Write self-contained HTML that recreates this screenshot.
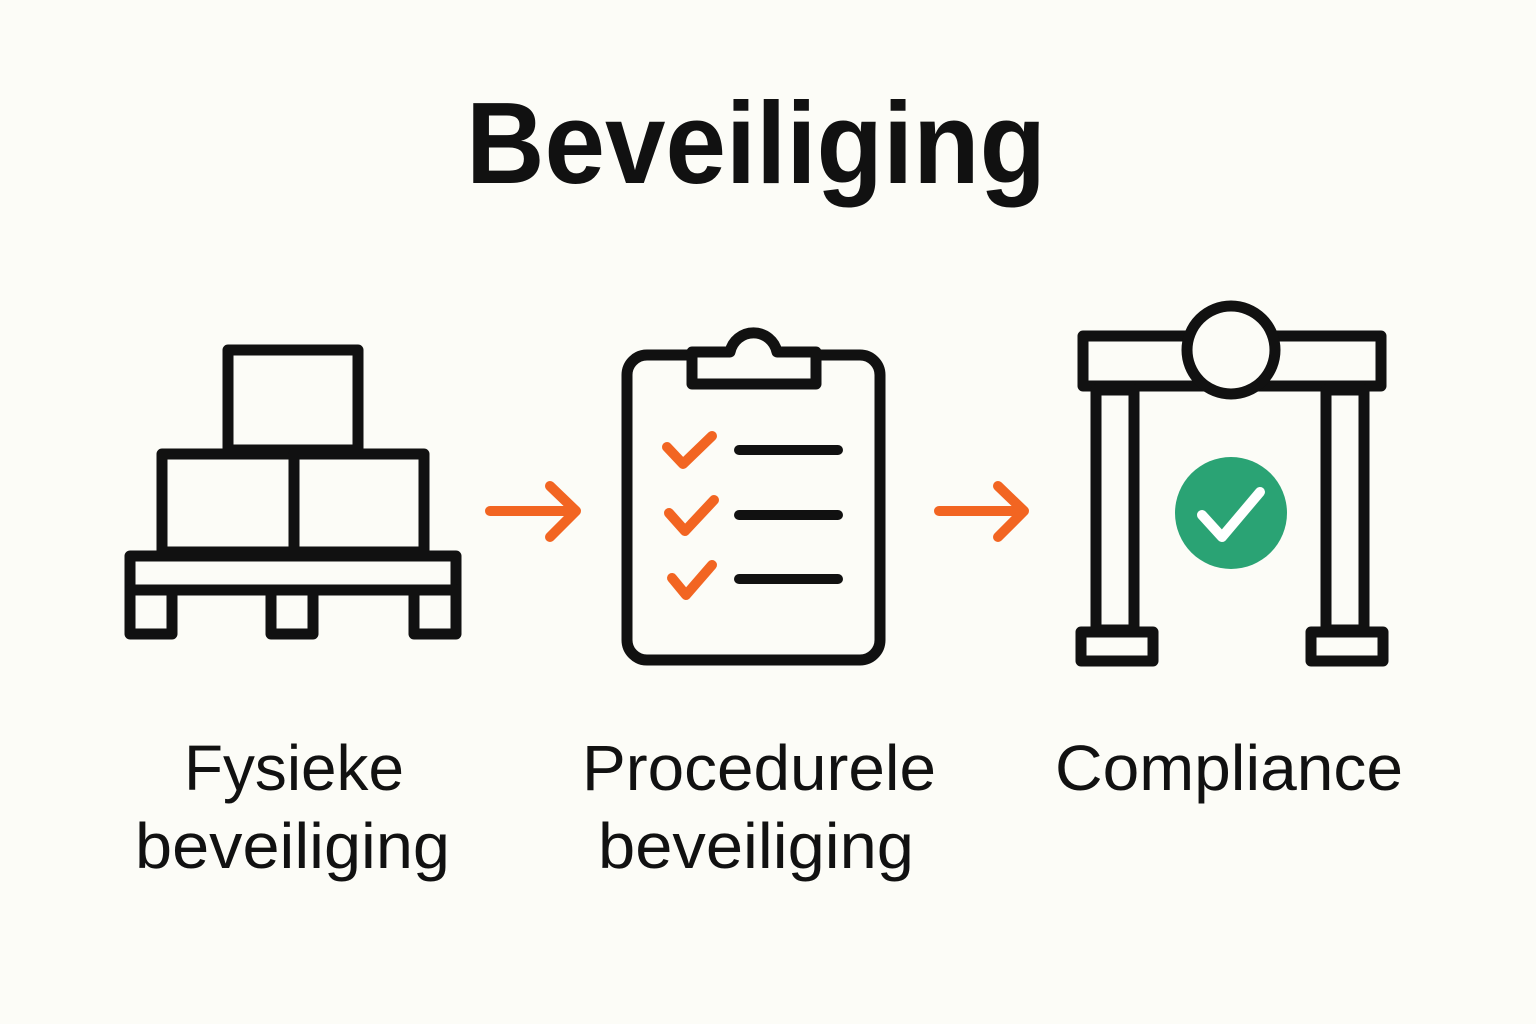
<!DOCTYPE html>
<html><head><meta charset="utf-8"><style>
html,body{margin:0;padding:0;background:#fcfcf7;}
svg{display:block}
text{font-family:"Liberation Sans",sans-serif;fill:#111;}
</style></head><body>
<svg width="1536" height="1024" viewBox="0 0 1536 1024">
<rect width="1536" height="1024" fill="#fcfcf7"/>
<text x="466" y="183" font-size="116" font-weight="bold" textLength="580" lengthAdjust="spacingAndGlyphs">Beveiliging</text>

<g fill="none" stroke="#111" stroke-width="11" stroke-linejoin="round">
<rect x="228" y="350" width="130" height="100"/>
<rect x="162" y="454" width="132" height="98"/>
<rect x="294" y="454" width="130" height="98"/>
<rect x="130" y="556" width="326" height="34"/>
<rect x="130" y="590" width="42" height="44"/>
<rect x="271" y="590" width="42" height="44"/>
<rect x="414" y="590" width="42" height="44"/>

<rect x="627" y="355" width="253" height="305" rx="20"/>
<path d="M692 352 H730 A24 24 0 0 1 777 352 H816 V384 H692 Z" fill="#fcfcf7"/>

<rect x="1083" y="336" width="298" height="50"/>
<circle cx="1231" cy="350" r="44" fill="#fcfcf7"/>
<rect x="1096" y="390" width="38" height="240"/>
<rect x="1326" y="390" width="38" height="240"/>
<rect x="1081" y="632" width="72" height="29"/>
<rect x="1311" y="632" width="72" height="29"/>
</g>

<g fill="none" stroke="#111" stroke-width="10" stroke-linecap="round">
<line x1="739" y1="450" x2="838" y2="450"/>
<line x1="739" y1="515" x2="838" y2="515"/>
<line x1="739" y1="579" x2="838" y2="579"/>
</g>
<g fill="none" stroke="#f26522" stroke-width="10" stroke-linecap="round" stroke-linejoin="round">
<polyline points="667,447 683,464 712,436"/>
<polyline points="669,513 685,531 714,500"/>
<polyline points="672,578 686,595 712,565"/>
<line x1="490" y1="511" x2="575" y2="511"/>
<polyline points="550,486 576,511 550,537"/>
<line x1="939" y1="511" x2="1022" y2="511"/>
<polyline points="998,486 1024,511 998,537"/>
</g>

<circle cx="1231" cy="513" r="56" fill="#2aa374"/>
<polyline points="1202,515 1222,537 1260,492" fill="none" stroke="#fff" stroke-width="10" stroke-linecap="round" stroke-linejoin="round"/>

<g font-size="64">
<text x="184" y="790" textLength="220" lengthAdjust="spacingAndGlyphs">Fysieke</text>
<text x="135" y="868" textLength="315" lengthAdjust="spacingAndGlyphs">beveiliging</text>
<text x="582" y="790" textLength="354" lengthAdjust="spacingAndGlyphs">Procedurele</text>
<text x="598" y="868" textLength="316" lengthAdjust="spacingAndGlyphs">beveiliging</text>
<text x="1055" y="790" textLength="348" lengthAdjust="spacingAndGlyphs">Compliance</text>
</g>
</svg>
</body></html>
